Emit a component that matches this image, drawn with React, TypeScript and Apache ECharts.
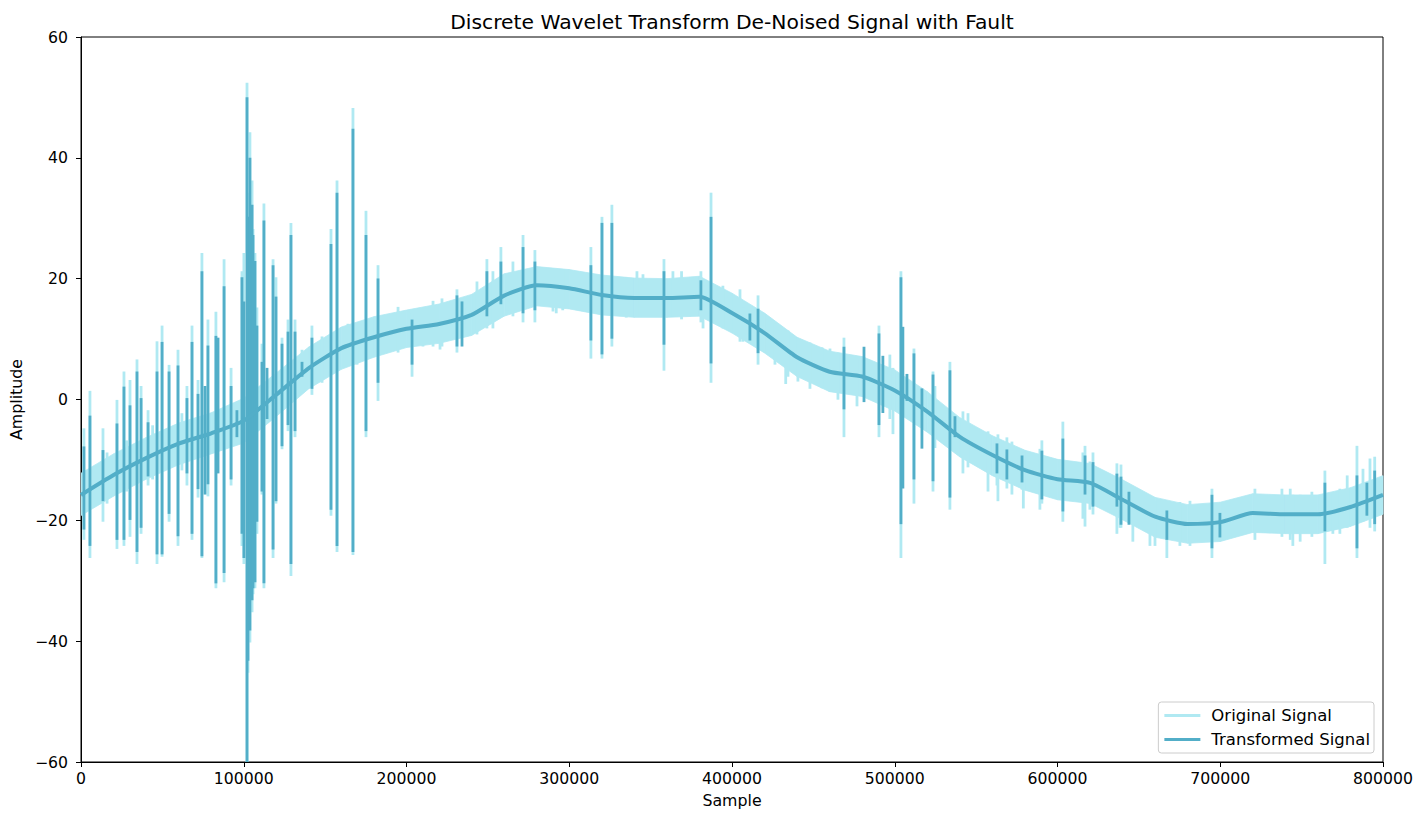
import { useEffect, useRef } from 'react';
import * as echarts from 'echarts';

const LIGHT = '#b0e9f2';
const DARK = '#52aec8';

// sample grid of the slowly varying part
const sampleX = [
  0, 20000, 40000, 60000, 80000, 100000, 120000, 140000, 160000, 180000,
  200000, 220000, 240000, 260000, 280000, 300000, 320000, 340000, 360000, 380000,
  400000, 420000, 440000, 460000, 480000, 500000, 520000, 540000, 560000, 580000,
  600000, 620000, 640000, 660000, 680000, 700000, 720000, 740000, 760000, 780000,
  800000,
];

// centre of the de-noised (transformed) signal
const transformedLevel = [
  -15.8, -12.5, -9.7, -7.3, -5.6, -3.5, 0.8, 5.2, 8.5, 10.3,
  11.7, 12.5, 14, 17.2, 18.9, 18.4, 17.3, 16.8, 16.8, 17,
  14.3, 11, 7, 4.6, 3.8, 1.5, -2, -6.2, -9.2, -11.7,
  -13.2, -13.8, -16.6, -19.4, -20.6, -20.3, -18.8, -19, -19, -17.8,
  -15.8,
];

// envelope of the noisy original signal (without the spikes)
const originalHigh = [
  -12.2, -9, -6.3, -3.9, -2.2, 0.2, 4.4, 8.7, 12, 13.7,
  14.8, 15.8, 17.4, 20.8, 22, 21.5, 20.6, 20.1, 20, 20.4,
  17.6, 14.3, 10.3, 8, 7.1, 4.9, 1.3, -3, -6, -8.4,
  -9.9, -10.6, -13.3, -16.2, -17.4, -17, -15.6, -15.8, -15.8, -14.6,
  -12.6,
];
const originalLow = [
  -19.2, -16, -13.2, -10.8, -9, -7.2, -2.8, 1.8, 5, 7,
  8.6, 9.3, 10.6, 13.8, 15.5, 15, 14, 13.6, 13.6, 13.8,
  11, 7.7, 3.8, 1.3, 0.5, -1.9, -5.4, -9.5, -12.6, -15,
  -16.6, -17.2, -19.9, -22.8, -23.8, -23.5, -22, -22.2, -22.2, -21,
  -19,
];

// [sample, low, high]
const originalSpikes = [
  [1800, -23, -5], [5500, -26, 1.2], [13500, -20, -5], [16000, -17, -9],
  [22100, -24.5, -0.3], [26400, -24, 4.4], [28000, -15, -7], [30100, -22.5, 3],
  [34400, -27, 6.4], [36900, -22, 2], [41200, -14, -2], [44000, -13, -4.5],
  [46700, -27, 9.4], [49800, -25.8, 12], [54100, -20, 5.5], [59600, -24, 8],
  [62000, -11.5, -2.5], [65100, -14, 2], [68200, -23, 12], [71900, -16, 3],
  [74300, -26, 24], [78000, -15.8, 13], [82900, -31, 14.3], [87900, -30, 23],
  [92200, -14, 5], [98900, -24, 21], [100100, -27, 24], [102000, -60, 52.2],
  [102600, -45, 34], [103800, -40, 44], [105100, -35, 36], [105700, -32, 28],
  [106900, -31, 24], [108100, -22, 15], [111200, -15.5, 9], [112400, -31, 32.2],
  [118000, -26, 23], [119800, -17, 20], [123500, -8, 10], [127200, -5, 13],
  [129000, -29, 29], [131500, -6, 13], [135800, 2, 8], [141900, 1, 12],
  [148100, 3, 10.2], [153600, -19, 28], [157300, -25, 36], [164000, 6, 12.3],
  [167100, -25.5, 48], [169600, 6, 10], [175100, -6, 31], [182500, 0, 22],
  [194800, 8, 15.1], [203400, 4, 14], [210100, 9, 14], [216300, 9, 16.1],
  [220600, 8.5, 13], [221800, 9, 16.5], [231000, 8, 18], [237200, 12, 15],
  [243300, 11, 19.3], [249400, 12, 23], [253100, 12, 21], [258000, 14, 25],
  [261700, 15, 18], [265400, 14, 22.6], [271600, 13, 27], [278900, 13, 24.5],
  [290000, 14.8, 20], [292000, 14.5, 21], [296000, 15, 21.3], [313300, 7, 25],
  [320100, 7, 30], [326200, 9, 32], [335000, 13.8, 20], [341600, 14, 21],
  [345300, 14, 20.5], [358200, 5, 23], [363700, 14, 21], [369000, 13.5, 21],
  [380900, 13, 21], [382200, 12, 17], [387100, 3, 34], [394400, 12, 18.6],
  [404900, 9.8, 18], [406700, 9.8, 15], [416000, 6, 17], [426400, 6, 12.3],
  [433000, 2.8, 11], [434400, 4, 11.2], [440500, 3.2, 9.8], [447900, 2, 9.2],
  [455300, 2.1, 8.4], [460200, 1.5, 8.2], [465100, 0.2, 7.5], [468800, -6, 10],
  [476800, -0.9, 6.5], [490300, -6, 12], [497000, -3, 7.2], [498900, -5.5, 5],
  [503800, -26, 21], [511800, -17, 8.2], [523500, -15, 4.4], [524700, -7.8, 2],
  [533900, -18, 6], [541900, -12, -2.2], [545000, -11, -2.5], [557300, -15, -5.5],
  [562800, -14, -7], [563400, -16.6, -6], [568900, -14.5, -6.5], [572000, -15.5, -7.2],
  [578200, -14.7, -8.5], [579000, -17.8, -9], [589200, -18, -8.4], [590400, -17, -7],
  [603300, -20, -3.9], [615600, -19.5, -9], [616900, -20.8, -7.9], [619900, -18, -10.5],
  [621800, -18.8, -9], [636500, -22, -10.8], [638400, -21, -14.4], [639000, -21, -11],
  [646300, -23.3, -15.5], [656800, -24, -17.8], [659900, -24, -17], [667200, -26, -17],
  [675200, -24, -17.2], [681400, -24, -17], [694900, -26, -15], [721300, -23, -15],
  [737900, -22.5, -15], [743000, -23, -15], [744600, -24, -16], [749100, -23.3, -16],
  [756300, -22.5, -15.5], [764300, -27, -12], [769200, -22, -15.8], [773500, -22, -15],
  [778000, -21, -12.8], [784000, -26, -7.9], [787700, -20, -11.7], [792000, -21, -10],
  [794900, -21.6, -9.7],
];

const transformedSpikes = [
  [1800, -21.3, -8], [5500, -24, -2.9], [13500, -16.6, -8.6], [22100, -23, -4.2],
  [26400, -23, 1.9], [30100, -19.7, -1.2], [34400, -25, 4.4], [36900, -21, 0],
  [41200, -12.5, -4], [46700, -25.4, 4.4], [49800, -25.4, 9.3], [54100, -18.7, 4.4],
  [59600, -22.4, 5.4], [65100, -12, 0], [68200, -22, 9.3], [71900, -14.6, 0.7],
  [74300, -25.7, 21], [76200, -15.5, 2], [78000, -13.8, 8.7], [82900, -30.2, 10.3],
  [84200, -12, 10], [87900, -28.5, 18.5], [92200, -13, 2], [95800, -6, -2],
  [98900, -22, 20], [100100, -26, 16], [102000, -60, 49.8], [102600, -43, 30],
  [103800, -38, 39.8], [105100, -33, 32], [105700, -31, 27], [106900, -30, 22.7],
  [108100, -20, 12], [111200, -15, 6], [112400, -30.2, 29.4], [114300, -3, 5],
  [118000, -24.6, 22], [119800, -16.6, 16.8], [123500, -7.5, 9], [127200, -4, 11],
  [129000, -27, 27], [131500, -5, 11], [135800, 4, 6], [141900, 2, 10],
  [153600, -18, 25.5], [157300, -24, 34], [167100, -25, 44.6], [175100, -5, 27],
  [182500, 3, 19.8], [203400, 6, 13], [231000, 9, 17], [234100, 9, 16],
  [249400, 14, 21], [258000, 16, 22.6], [271600, 14.5, 25], [278900, 15, 22.6],
  [313300, 10, 22], [320100, 7.7, 29], [326200, 10.3, 29], [358200, 9.3, 21],
  [380900, 15, 19.5], [387100, 6.2, 30], [411000, 10, 14], [416000, 7.9, 14.8],
  [468800, -1.4, 8.5], [481100, -0.2, 8.5], [490300, -4, 10.7], [492700, -2, 7],
  [503800, -20.4, 20], [505000, -14.5, 11.8], [507500, 0, 4], [511800, -13, 7.4],
  [516700, -7.9, 1.6], [523500, -13.3, 3.9], [533900, -16, 4.6], [537000, -6, -3],
  [562800, -12, -7.5], [568900, -13, -8.5], [578200, -13.5, -9.5], [590400, -16.3, -8.7],
  [603300, -18.3, -6.7], [616900, -15.5, -9.5], [621800, -17.5, -10.6], [636500, -17.5, -12.5],
  [639000, -20.5, -13], [643900, -20.5, -15.5], [667200, -23, -18.6], [694900, -24.4, -16],
  [699800, -22.6, -19], [764300, -21.6, -14], [784000, -24.4, -12.8], [790100, -19, -14],
  [794900, -20.4, -12],
];

const xMin = 0;
const xMax = 800000;
const xStep = 100000;
const yMin = -60;
const yMax = 60;
const yStep = 20;

const FONT = 'DejaVu Sans';

const spikeSeries = (name: string, data: number[][], color: string) => ({
  name,
  type: 'custom',
  clip: true,
  itemStyle: { color },
  encode: { x: 0, y: [1, 2] },
  data,
  renderItem: (_params: any, api: any) => {
    const lo = api.coord([api.value(0), api.value(1)]);
    const hi = api.coord([api.value(0), api.value(2)]);
    return {
      type: 'line',
      shape: { x1: lo[0], y1: lo[1], x2: hi[0], y2: hi[1] },
      style: { stroke: color, lineWidth: 2.8, lineCap: 'square' },
    };
  },
});

const App = () => {
  const chartRef = useRef(null);

  useEffect(() => {
    document.body.style.margin = '0';
    if (!chartRef.current) return;
    const myChart = echarts.init(chartRef.current, null, { renderer: 'svg' });

    const bandData = sampleX.map((x, i) => [x, originalLow[i], originalHigh[i]]);

    const option = {
      animation: false,
      backgroundColor: '#ffffff',
      textStyle: { fontFamily: FONT },
      title: {
        text: 'Discrete Wavelet Transform De-Noised Signal with Fault',
        left: 727,
        top: 7,
        textAlign: 'center',
        textStyle: { fontFamily: FONT, fontSize: 20.3, fontWeight: 'normal', color: '#000' },
      },
      grid: {
        left: 81,
        right: 43,
        top: 37,
        bottom: 60,
        show: true,
        borderColor: '#000',
        borderWidth: 1,
        backgroundColor: 'transparent',
      },
      legend: {
        orient: 'vertical',
        right: 52,
        bottom: 69,
        data: [
          { name: 'Original Signal', icon: 'rect' },
          { name: 'Transformed Signal', icon: 'rect' },
        ],
        itemWidth: 36,
        itemHeight: 3,
        itemGap: 7,
        padding: [5, 4, 5, 6],
        backgroundColor: 'rgba(255,255,255,0.8)',
        borderColor: '#cccccc',
        borderWidth: 1,
        borderRadius: 3,
        textStyle: { fontFamily: FONT, fontSize: 16.5, color: '#000', padding: [0, 0, 0, 6] },
      },
      xAxis: {
        type: 'value',
        min: xMin,
        max: xMax,
        interval: xStep,
        name: 'Sample',
        nameLocation: 'middle',
        nameGap: 30,
        nameTextStyle: { fontFamily: FONT, fontSize: 15.8, color: '#000' },
        splitLine: { show: false },
        axisLine: { onZero: false, lineStyle: { color: '#000', width: 1 } },
        axisTick: { length: 5, lineStyle: { color: '#000' } },
        axisLabel: {
          fontFamily: FONT,
          fontSize: 15.7,
          color: '#000',
          margin: 8,
          formatter: (v: number) => String(v),
        },
      },
      yAxis: {
        type: 'value',
        min: yMin,
        max: yMax,
        interval: yStep,
        name: 'Amplitude',
        nameLocation: 'middle',
        nameGap: 55,
        nameTextStyle: { fontFamily: FONT, fontSize: 15.8, color: '#000' },
        splitLine: { show: false },
        axisLine: { show: true, onZero: false, lineStyle: { color: '#000', width: 1 } },
        axisTick: { show: true, length: 5, lineStyle: { color: '#000' } },
        axisLabel: {
          fontFamily: FONT,
          fontSize: 15.7,
          color: '#000',
          margin: 13,
          formatter: (v: number) => String(v).replace('-', '\u2212'),
        },
      },
      series: [
        {
          name: 'Original Signal',
          type: 'custom',
          clip: true,
          itemStyle: { color: LIGHT },
          encode: { x: 0, y: [1, 2] },
          data: bandData,
          renderItem: (params: any, api: any) => {
            const i = params.dataIndex;
            if (i >= bandData.length - 1) return null;
            const a = bandData[i];
            const b = bandData[i + 1];
            const pts = [
              api.coord([a[0], a[2]]),
              api.coord([b[0], b[2]]),
              api.coord([b[0], b[1]]),
              api.coord([a[0], a[1]]),
            ];
            return {
              type: 'polygon',
              shape: { points: pts },
              style: { fill: LIGHT, stroke: LIGHT, lineWidth: 0.8 },
            };
          },
        },
        spikeSeries('Original Signal', originalSpikes, LIGHT),
        {
          name: 'Transformed Signal',
          type: 'line',
          data: sampleX.map((x, i) => [x, transformedLevel[i]]),
          showSymbol: false,
          smooth: 0.2,
          itemStyle: { color: DARK },
          lineStyle: { color: DARK, width: 4 },
        },
        spikeSeries('Transformed Signal', transformedSpikes, DARK),
      ],
    };

    myChart.setOption(option);

    return () => {
      myChart.dispose();
    };
  }, []);

  return <div ref={chartRef} style={{ width: '1426px', height: '822px' }} />;
};

export default App;
